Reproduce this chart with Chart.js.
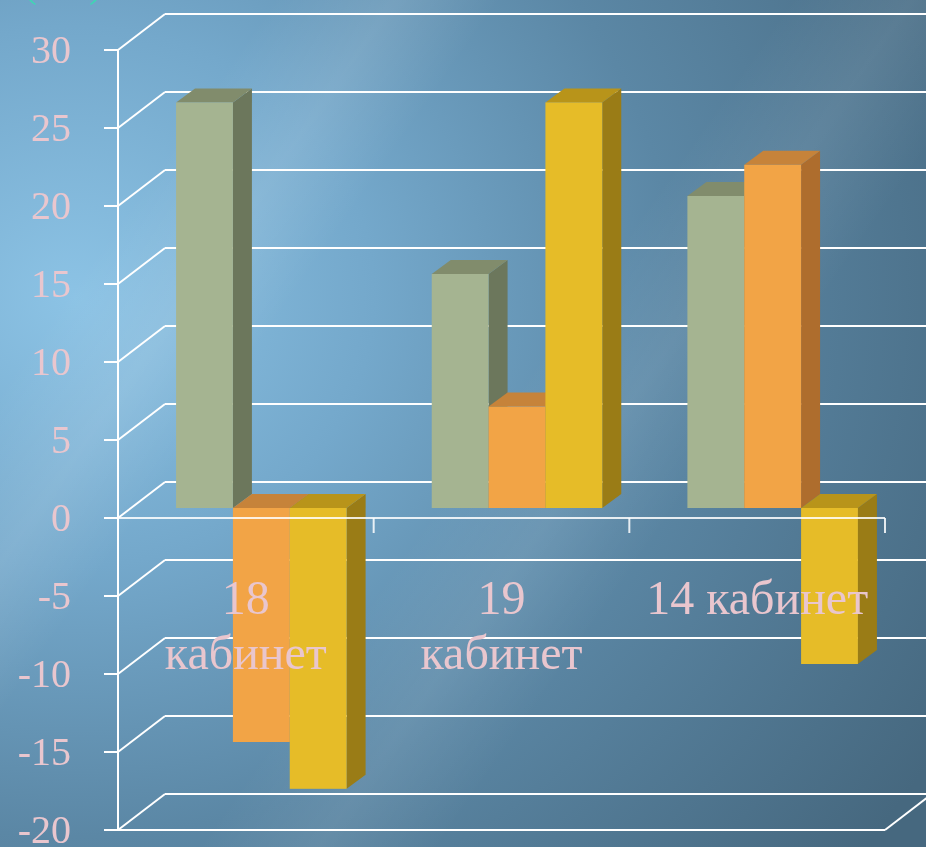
<!DOCTYPE html>
<html>
<head>
<meta charset="utf-8">
<script src="https://cdn.jsdelivr.net/npm/chart.js@4/dist/chart.umd.min.js"></script>
<style>
  html, body { margin: 0; padding: 0; }
  body {
    width: 926px;
    height: 847px;
    overflow: hidden;
    background:
      linear-gradient(125deg, rgba(255,255,255,0) 18%, rgba(255,255,255,0.10) 26%, rgba(255,255,255,0) 33%,
                      rgba(255,255,255,0) 52%, rgba(255,255,255,0.08) 60%, rgba(255,255,255,0) 68%),
      radial-gradient(ellipse 1000px 900px at 8% 35%, #8cc3e5 0%, #74a8cb 30%, #5b87a5 60%, #46687f 100%);
  }
  canvas { display: block; }
</style>
</head>
<body>
<canvas id="chart" width="926" height="847"></canvas>
<script>
const cabinets = [["18", "кабинет"], ["19", "кабинет"], "14 кабинет"];
const series1 = [26, 15, 20];
const series2 = [-15, 6.5, 22];
const series3 = [-18, 26, -10];
const yMin = -20;
const yMax = 30;
const yStep = 5;

const pink = "#e9c6ce";
// front, side, top
const shades = [
    ["#a5b491", "#6c775c", "#818c6c"],
    ["#f2a446", "#ae6d2d", "#c6833a"],
    ["#e6bc28", "#9a7c16", "#b8941a"],
];

const WALL_DX = 47, WALL_DY = 36; // depth of the back wall
const BAR_DX = 15.5, BAR_DY = 10; // bars stand a third of the way back
const BOX_DX = 19, BOX_DY = 14;   // depth of each bar

function line(ctx, x1, y1, x2, y2) {
    ctx.beginPath();
    ctx.moveTo(x1, y1);
    ctx.lineTo(x2, y2);
    ctx.stroke();
}

function poly(ctx, pts, color) {
    ctx.beginPath();
    ctx.moveTo(pts[0][0], pts[0][1]);
    for (let i = 1; i < pts.length; i++) ctx.lineTo(pts[i][0], pts[i][1]);
    ctx.closePath();
    ctx.fillStyle = color;
    ctx.fill();
}

const box3d = {
    id: "box3d",
    beforeDatasetsDraw(chart) {
        const { ctx, chartArea: a, scales: { x, y } } = chart;
        ctx.save();

        // walls
        ctx.strokeStyle = "#ffffff";
        ctx.lineWidth = 2;
        y.ticks.forEach((t) => {
            const py = y.getPixelForValue(t.value);
            line(ctx, a.left, py, a.left + WALL_DX, py - WALL_DY);
            line(ctx, a.left + WALL_DX, py - WALL_DY, chart.width, py - WALL_DY);
            line(ctx, a.left - 14, py, a.left, py);
        });
        line(ctx, a.left, a.top, a.left, a.bottom);
        line(ctx, a.left, a.bottom, a.right, a.bottom);
        line(ctx, a.right, a.bottom, a.right + WALL_DX, a.bottom - WALL_DY);

        // value labels
        ctx.fillStyle = pink;
        ctx.font = "40px 'Liberation Serif'";
        ctx.textAlign = "right";
        ctx.textBaseline = "middle";
        y.ticks.forEach((t) => {
            ctx.fillText(String(t.value), a.left - 47, y.getPixelForValue(t.value) + 2);
        });

        // bars, left to right so each box hides the one behind it
        const metas = chart.getSortedVisibleDatasetMetas().slice().sort((m, n) => m.index - n.index);
        for (let i = 0; i < cabinets.length; i++) {
            metas.forEach((meta, d) => {
                const bar = meta.data[i].getProps(["x", "y", "base", "width"], true);
                const l = bar.x - bar.width / 2 + BAR_DX;
                const r = bar.x + bar.width / 2 + BAR_DX;
                const t = Math.min(bar.y, bar.base) - BAR_DY;
                const b = Math.max(bar.y, bar.base) - BAR_DY;
                const [front, side, top] = shades[d];
                poly(ctx, [[r, t], [r + BOX_DX, t - BOX_DY], [r + BOX_DX, b - BOX_DY], [r, b]], side);
                poly(ctx, [[l, t], [l + BOX_DX, t - BOX_DY], [r + BOX_DX, t - BOX_DY], [r, t]], top);
                ctx.fillStyle = front;
                ctx.fillRect(l, t, r - l, b - t);
            });
        }

        // zero line with category ticks
        const y0 = y.getPixelForValue(0);
        const step = x.getPixelForValue(1) - x.getPixelForValue(0);
        ctx.strokeStyle = "rgba(255,255,255,0.85)";
        line(ctx, a.left, y0, a.right, y0);
        for (let i = 0; i < cabinets.length; i++) {
            const px = x.getPixelForValue(i) + step / 2;
            line(ctx, px, y0, px, y0 + 15);
        }

        // category names
        ctx.fillStyle = pink;
        ctx.font = "48px 'Liberation Serif'";
        ctx.textAlign = "center";
        ctx.textBaseline = "alphabetic";
        cabinets.forEach((label, i) => {
            const rows = Array.isArray(label) ? label : [label];
            rows.forEach((row, k) => {
                ctx.fillText(row, x.getPixelForValue(i), y0 + 96 + k * 55);
            });
        });

        // unit caption above the plot
        ctx.fillStyle = "#3fd6b4";
        ctx.font = "38px 'Liberation Serif'";
        ctx.textAlign = "left";
        ctx.fillText("(шт.)", 24, -3);

        ctx.restore();
        return false;
    },
};

new Chart(document.getElementById("chart"), {
    type: "bar",
    data: {
        labels: cabinets,
        datasets: [
            { label: "Ряд 1", data: series1, backgroundColor: shades[0][0] },
            { label: "Ряд 2", data: series2, backgroundColor: shades[1][0] },
            { label: "Ряд 3", data: series3, backgroundColor: shades[2][0] },
        ],
    },
    options: {
        responsive: false,
        animation: false,
        categoryPercentage: 0.667,
        barPercentage: 1,
        layout: { padding: { top: 50, right: 41, bottom: 17, left: 0 } },
        plugins: {
            legend: { display: false },
            tooltip: { enabled: false },
        },
        scales: {
            x: { display: false, offset: true },
            y: {
                min: yMin,
                max: yMax,
                grid: { display: false, drawTicks: false },
                border: { display: false },
                ticks: { stepSize: yStep, display: false, padding: 0 },
                afterFit(scale) {
                    scale.width = 118;
                },
            },
        },
    },
    plugins: [box3d],
});
</script>
</body>
</html>
